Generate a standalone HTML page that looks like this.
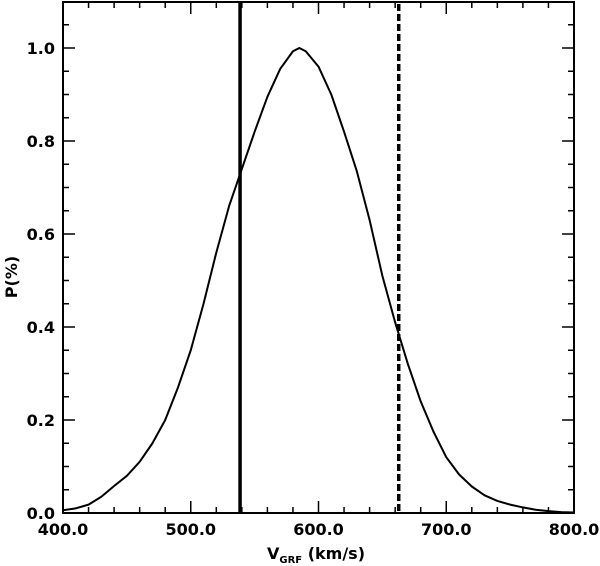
<!DOCTYPE html>
<html><head><meta charset="utf-8"><style>
html,body{margin:0;padding:0;background:#fff;}
svg{display:block;}
text{font-family:"DejaVu Sans","Liberation Sans",sans-serif;font-weight:bold;fill:#000;}
</style></head><body>
<svg id="chart" width="600" height="566" viewBox="0 0 600 566" xmlns="http://www.w3.org/2000/svg"></svg>
<script>
const xCats=[400,410,420,430,440,450,460,470,480,490,500,510,520,530,540,550,560,570,580,585,590,600,610,620,630,640,650,660,670,680,690,700,710,720,730,740,750,760,770,780,790,800];
const pValues=[0.006,0.010,0.018,0.035,0.058,0.08,0.11,0.15,0.20,0.27,0.35,0.45,0.56,0.66,0.74,0.82,0.895,0.955,0.993,1.0,0.993,0.96,0.90,0.82,0.735,0.63,0.51,0.41,0.32,0.24,0.175,0.12,0.083,0.057,0.038,0.026,0.018,0.012,0.007,0.004,0.002,0.001];
const xTickLabels=["400.0","500.0","600.0","700.0","800.0"];
const xTickValues=[400,500,600,700,800];
const yTickLabels=["0.0","0.2","0.4","0.6","0.8","1.0"];
const yTickValues=[0,0.2,0.4,0.6,0.8,1.0];
const solidLineValue=[538.6];
const dashedLineValue=[662.8];

const L=63,R=574,T=2,B=513;
const sx=v=>L+(v-400)/400*(R-L);
const sy=v=>B-v/1.0*(B-48);
const svg=document.getElementById('chart');
const NS='http://www.w3.org/2000/svg';
function mk(tag,attrs,parent){const e=document.createElementNS(NS,tag);for(const k in attrs)e.setAttribute(k,attrs[k]);(parent||svg).appendChild(e);return e;}

// frame
const frame=mk('rect',{x:L,y:T,width:R-L,height:B-T,fill:'none',stroke:'#000','stroke-width':2});



// x ticks
for(let v=400;v<=800;v+=20){
  const major=(v%100===0);const len=major?12:6;const x=sx(v);
  const t1=mk('line',{x1:x,y1:B,x2:x,y2:B-len,stroke:'#000','stroke-width':1.5});
  
  
  const t2=mk('line',{x1:x,y1:T,x2:x,y2:T+len,stroke:'#000','stroke-width':1.5});
  
  
}
// y ticks
for(let i=0;i<=22;i++){
  const v=i*0.05;const major=(i%4===0);const len=major?12:6;const y=sy(v);
  if(y<T)continue;
  const t1=mk('line',{x1:L,y1:y,x2:L+len,y2:y,stroke:'#000','stroke-width':1.5});
  
  
  const t2=mk('line',{x1:R,y1:y,x2:R-len,y2:y,stroke:'#000','stroke-width':1.5});
  
  
}
// x labels
xTickValues.forEach((v,i)=>{
  const t=mk('text',{x:sx(v),y:535,'text-anchor':'middle','font-size':16});
  t.textContent=xTickLabels[i];
  
  
});
// y labels
yTickValues.forEach((v,i)=>{
  const t=mk('text',{x:55,y:sy(v)+6,'text-anchor':'end','font-size':16});
  t.textContent=yTickLabels[i];
  
  
});
// axis titles
const xt=mk('text',{x:316,y:559,'text-anchor':'middle','font-size':16});


xt.innerHTML='V<tspan font-size="10" dy="4">GRF</tspan><tspan dy="-4"> (km/s)</tspan>';
const yt=mk('text',{x:0,y:0,'text-anchor':'middle','font-size':16,transform:'translate(17,277) rotate(-90)'});
yt.textContent='P(%)';



// curve
const d=xCats.map((v,i)=>(i?'L':'M')+sx(v).toFixed(2)+' '+sy(pValues[i]).toFixed(2)).join(' ');
const c=mk('path',{d:d,fill:'none',stroke:'#000','stroke-width':2,'stroke-linejoin':'round'});



// vertical lines
const s=mk('line',{x1:sx(solidLineValue[0]),y1:T,x2:sx(solidLineValue[0]),y2:B,stroke:'#000','stroke-width':3.5});


const dl=mk('line',{x1:sx(dashedLineValue[0]),y1:T+2,x2:sx(dashedLineValue[0]),y2:B,stroke:'#000','stroke-width':3.5,'stroke-dasharray':'7 3'});


</script>
</body></html>
